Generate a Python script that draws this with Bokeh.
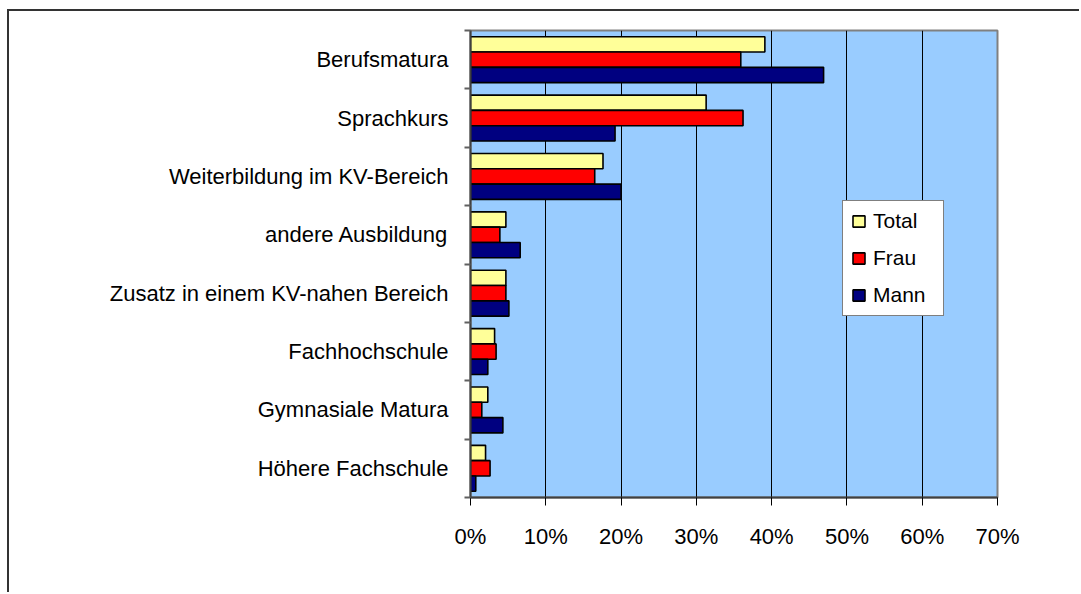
from bokeh.plotting import figure
from bokeh.models import (FixedTicker, PrintfTickFormatter, Range1d, Legend, LegendItem,
                          ColumnDataSource)
from bokeh.embed import file_html
from bokeh.resources import INLINE

categories = ["Berufsmatura", "Sprachkurs", "Weiterbildung im KV-Bereich", "andere Ausbildung",
              "Zusatz in einem KV-nahen Bereich", "Fachhochschule", "Gymnasiale Matura",
              "Höhere Fachschule"]
total = [39.1, 31.3, 17.6, 4.7, 4.7, 3.2, 2.3, 2.0]
frau = [35.9, 36.2, 16.5, 3.9, 4.7, 3.4, 1.5, 2.6]
mann = [46.9, 19.2, 20.0, 6.6, 5.1, 2.3, 4.3, 0.7]
x_ticks = [0, 10, 20, 30, 40, 50, 60, 70]

n = len(categories)
centers = [n - i - 0.5 for i in range(n)]
bh = 0.262

# canvas origin on the page (after the outer chart border)
OX, OY = 9, 11
W, H = 1081 - OX, 594 - OY
FL, FR, FT, FB = 470, 997, 30, 497  # frame edges on the page

p = figure(width=W, height=H, output_backend="svg", toolbar_location=None,
           x_range=Range1d(0, 70), y_range=Range1d(0, n),
           min_border_left=FL - OX, min_border_right=W - (FR - OX),
           min_border_top=FT - OY, min_border_bottom=H - (FB - OY))
p.margin = (OY - 2, 0, 0, OX - 2)
p.styles = {"border-top": "2px solid #333333", "border-left": "2px solid #333333"}
p.background_fill_color = "#99CCFF"
p.border_fill_color = "white"
p.outline_line_color = "#808080"
p.outline_line_width = 2

font = "Liberation Sans"
src = ColumnDataSource(dict(c=centers, total=total, frau=frau, mann=mann,
                            yt=[c + bh for c in centers], ym=[c - bh for c in centers]))
r_t = p.hbar(y="yt", left=0, right="total", height=bh, source=src,
             fill_color="#FFFF99", line_color="black", line_width=1.6)
r_f = p.hbar(y="c", left=0, right="frau", height=bh, source=src,
             fill_color="#FF0000", line_color="black", line_width=1.6)
r_m = p.hbar(y="ym", left=0, right="mann", height=bh, source=src,
             fill_color="#000080", line_color="black", line_width=1.6)

# x axis
p.xaxis.ticker = FixedTicker(ticks=x_ticks)
p.xaxis.formatter = PrintfTickFormatter(format="%d%%")
p.xaxis.axis_line_color = "#404040"
p.xaxis.axis_line_width = 2
p.xaxis.major_tick_out = 8
p.xaxis.major_tick_in = 0
p.xaxis.major_tick_line_color = "black"
p.xaxis.minor_tick_line_color = None
p.xaxis.major_label_text_font = font
p.xaxis.major_label_text_font_size = "22px"
p.xaxis.major_label_text_color = "black"
p.xaxis.major_label_standoff = 18

p.xgrid.ticker = FixedTicker(ticks=x_ticks)
p.xgrid.grid_line_color = "black"
p.xgrid.grid_line_width = 1
p.ygrid.grid_line_color = None

# y axis
boundaries = list(range(0, n + 1))
p.yaxis.ticker = FixedTicker(ticks=centers, minor_ticks=boundaries)
p.yaxis.major_label_overrides = {c: lab for c, lab in zip(centers, categories)}
p.yaxis.major_tick_out = 0
p.yaxis.major_tick_in = 0
p.yaxis.minor_tick_out = 6
p.yaxis.minor_tick_in = 0
p.yaxis.minor_tick_line_color = "#606060"
p.yaxis.minor_tick_line_width = 2
p.yaxis.axis_line_color = "#404040"
p.yaxis.axis_line_width = 2
p.yaxis.major_label_text_font = font
p.yaxis.major_label_text_font_size = "22px"
p.yaxis.major_label_text_color = "black"
p.yaxis.major_label_standoff = 16

legend = Legend(items=[LegendItem(label="Total", renderers=[r_t]),
                       LegendItem(label="Frau", renderers=[r_f]),
                       LegendItem(label="Mann", renderers=[r_m])],
                location=(842 - FL, FB - 316))
legend.label_text_font = font
legend.label_text_font_size = "21px"
legend.label_text_color = "black"
legend.glyph_width = 15
legend.glyph_height = 14
legend.label_height = 21
legend.label_width = 62
legend.label_standoff = 7
legend.spacing = 13
legend.padding = 8
legend.margin = 0
legend.border_line_color = "black"
legend.border_line_width = 1
legend.background_fill_color = "white"
legend.background_fill_alpha = 1
p.add_layout(legend, "center")

open("out.html", "w").write(file_html(p, INLINE))
